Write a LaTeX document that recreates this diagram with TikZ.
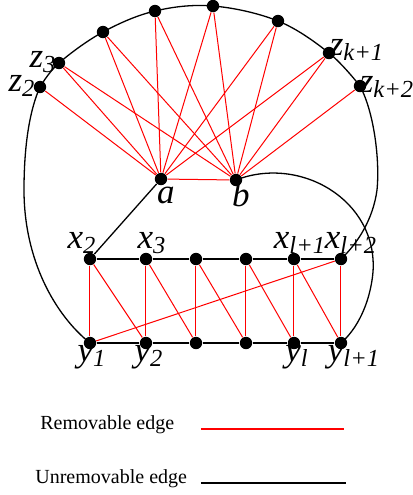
\documentclass[tikz,border=0pt]{standalone}
\usepackage{fontspec}
\setmainfont{Liberation Serif}

\tikzset{
  vtx/.style={circle, fill=black, inner sep=0pt, minimum size=6.2pt},
  lbl/.style={font=\fontsize{17.5}{18}\selectfont\itshape, inner sep=0pt},
  rem/.style={red, line width=0.5pt},
  unrem/.style={black, line width=0.65pt},
  legtxt/.style={font=\fontsize{10}{12}\selectfont, anchor=west, inner sep=0pt},
}

\begin{document}
\begin{tikzpicture}[x=0.5pt,y=-0.5pt]
\useasboundingbox (0,0) rectangle (413,495);
% vertices on the outer curve
\node [vtx] (z2)  at (40,87)  {};
\node [vtx] (z3)  at (59,63)  {};
\node [vtx] (u1)  at (103,32) {};
\node [vtx] (u2)  at (155,11) {};
\node [vtx] (u3)  at (213,6)  {};
\node [vtx] (u4)  at (278,21) {};
\node [vtx] (zk1) at (329,53) {};
\node [vtx] (zk2) at (360,86) {};
\node [vtx] (a)   at (161,179) {};
\node [vtx] (b)   at (236,180) {};
% ladder
\node [vtx] (x2) at (90,259)  {};
\node [vtx] (x3) at (146,259) {};
\node [vtx] (x4) at (196,259) {};
\node [vtx] (x5) at (246,259) {};
\node [vtx] (x6) at (294,259) {};
\node [vtx] (x7) at (341,259) {};
\node [vtx] (y1) at (90,343)  {};
\node [vtx] (y2) at (146,343) {};
\node [vtx] (y3) at (196,343) {};
\node [vtx] (y4) at (246,343) {};
\node [vtx] (y5) at (294,343) {};
\node [vtx] (y6) at (341,343) {};
% labels
\node [lbl] (lz2)  at (22,86)   {z\textsubscript{2}};
\node [lbl] (lz3)  at (43,62)   {z\textsubscript{3}};
\node [lbl] (lzk1) at (357,50)  {z\textsubscript{k+1}};
\node [lbl] (lzk2) at (387,87)  {z\textsubscript{k+2}};
\node [lbl] (la)   at (166,195) {a};
\node [lbl] (lb)   at (241,195) {b};
\node [lbl] (lx2)  at (82,243)  {x\textsubscript{2}};
\node [lbl] (lx3)  at (152,243) {x\textsubscript{3}};
\node [lbl] (lx6)  at (300,243) {x\textsubscript{l+1}};
\node [lbl] (lx7)  at (351,243) {x\textsubscript{l+2}};
\node [lbl] (ly1)  at (92,357)  {y\textsubscript{1}};
\node [lbl] (ly2)  at (149,357) {y\textsubscript{2}};
\node [lbl] (ly5)  at (297,357) {y\textsubscript{l}};
\node [lbl] (ly6)  at (354,357) {y\textsubscript{l+1}};
% black edges
\draw [unrem] (y1.center) .. controls (55,315) and (24,260) .. (24,190) .. controls (24,140) and (31,107) .. (z2.center);
\draw [unrem] plot [smooth, tension=0.6] coordinates {(z2.center) (z3.center) (u1.center) (u2.center) (u3.center) (u4.center) (zk1.center) (zk2.center)};
\draw [unrem] (zk2.center) .. controls (374,112) and (380,160) .. (377,190) .. controls (373,220) and (357,244) .. (x7.center);
\draw [unrem] (b.center) .. controls (300,155) and (378,200) .. (373,272) .. controls (370,305) and (356,330) .. (y6.center);
\draw [unrem] (a) -- (x2);
\draw [unrem] (x2) -- (x3) -- (x4) -- (x5) -- (x6) -- (x7);
\draw [unrem] (y1) -- (y2) -- (y3) -- (y4) -- (y5) -- (y6);
% red edges, top
\draw [rem] (a) -- (b);
\draw [rem] (a) -- (z2);
\draw [rem] (a) -- (z3);
\draw [rem] (a) -- (u1);
\draw [rem] (a) -- (u2);
\draw [rem] (a) -- (u3);
\draw [rem] (a) -- (u4);
\draw [rem] (a) -- (zk1);
\draw [rem] (b) -- (z3);
\draw [rem] (b) -- (u1);
\draw [rem] (b) -- (u2);
\draw [rem] (b) -- (u3);
\draw [rem] (b) -- (u4);
\draw [rem] (b) -- (zk1);
\draw [rem] (b) -- (zk2);
% red edges, ladder
\draw [rem] (x2) -- (y1);
\draw [rem] (x2) -- (y2);
\draw [rem] (x3) -- (y2);
\draw [rem] (x3) -- (y3);
\draw [rem] (x4) -- (y3);
\draw [rem] (x4) -- (y4);
\draw [rem] (x5) -- (y4);
\draw [rem] (x5) -- (y5);
\draw [rem] (x6) -- (y5);
\draw [rem] (x6) -- (y6);
\draw [rem] (x7) -- (y6);
\draw [rem] (y1) -- (x7);
% legend
\node [legtxt] (remtxt)   at (40,425) {Removable edge};
\node [legtxt] (unremtxt) at (35,479) {Unremovable edge};
\coordinate (remA)   at (201,429);
\coordinate (remB)   at (344,429);
\coordinate (unremA) at (201,483);
\coordinate (unremB) at (346,483);
\draw [rem, line width=0.8pt] (remA) -- (remB);
\draw [unrem, line width=0.8pt] (unremA) -- (unremB);
\end{tikzpicture}
\end{document}
